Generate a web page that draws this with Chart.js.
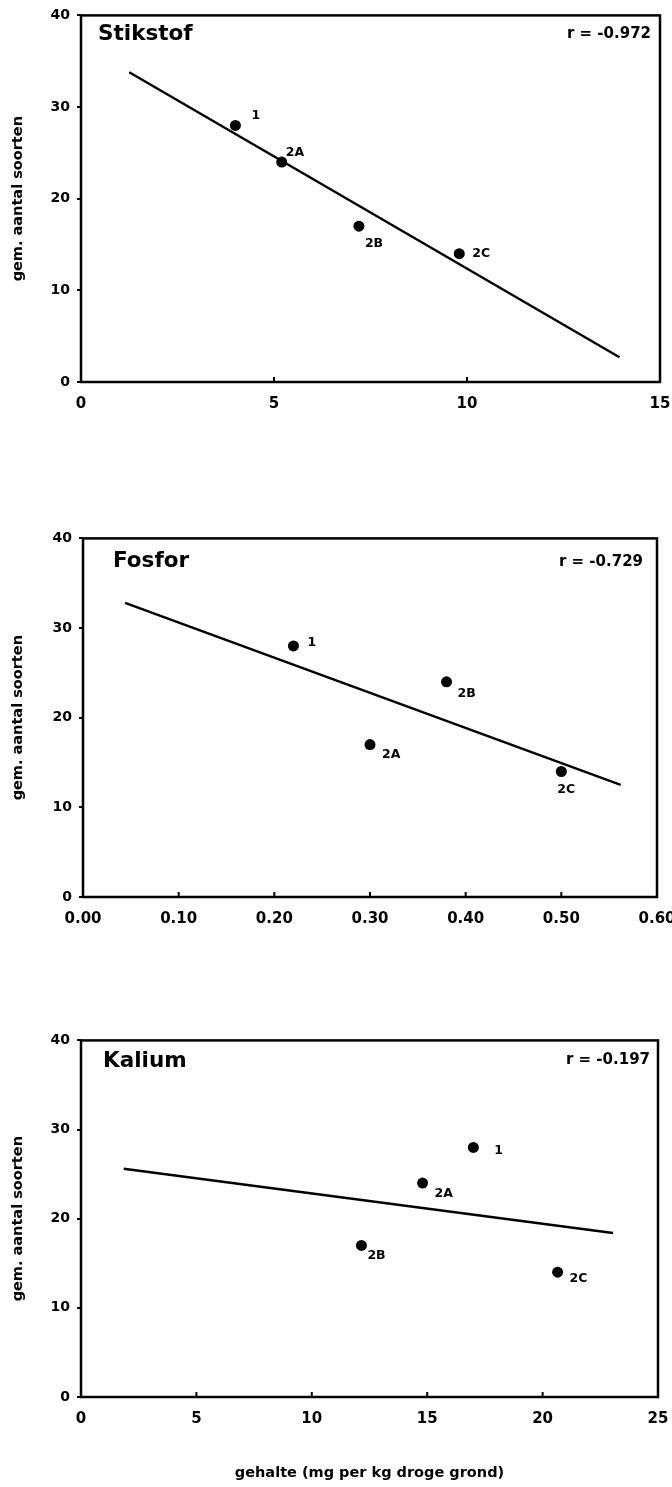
<!DOCTYPE html>
<html>
<head>
<meta charset="utf-8">
<script src="https://cdn.jsdelivr.net/npm/chart.js@4"></script>
<style>
  body { margin: 0; background: #fff; width: 672px; height: 1487px; position: relative; overflow: hidden; }
  .panel { position: absolute; left: 0; width: 672px; }
</style>
</head>
<body>
<div class="panel" id="p0"><canvas id="c0"></canvas></div>
<div class="panel" id="p1"><canvas id="c1"></canvas></div>
<div class="panel" id="p2"><canvas id="c2"></canvas></div>
<script>
// data
const panelNames = ['Stikstof', 'Fosfor', 'Kalium'];
const rTexts = ['r = -0.972', 'r = -0.729', 'r = -0.197'];
const siteLabels = ['1', '2A', '2B', '2C'];

const stikstofX = [4.0, 5.2, 7.2, 9.8];
const stikstofY = [28, 24, 17, 14];
const stikstofFitX = [1.25, 13.95];
const stikstofFitY = [33.8, 2.7];

const fosforX = [0.22, 0.30, 0.38, 0.50];
const fosforY = [28, 17, 24, 14];
const fosforFitX = [0.044, 0.562];
const fosforFitY = [32.8, 12.5];

const kaliumX = [17.0, 14.8, 12.15, 20.65];
const kaliumY = [28, 24, 17, 14];
const kaliumFitX = [1.85, 23.05];
const kaliumFitY = [25.6, 18.4];

const xMax = [15, 0.6, 25];
const xStep = [5, 0.1, 5];
const yMax = 40;
const yStep = 10;
const yTitle = 'gem. aantal soorten';
const xTitle = 'gehalte (mg per kg droge grond)';

// layout / styling per panel
const layout = [
  { top: 0, height: 422, yWidth: 81, padRight: 12, xHeight: 40, titleDx: 17, titleDy: 19, rDx: 9, rDy: 19,
    offsets: [[16, -10], [4, -9], [6, 18], [13, 0]] },
  { top: 523, height: 414, yWidth: 83, padRight: 15, xHeight: 40, titleDx: 30, titleDy: 23, rDx: 14, rDy: 24,
    offsets: [[14, -3], [12, 10], [11, 12], [-4, 18]] },
  { top: 1025, height: 462, yWidth: 81, padRight: 14, xHeight: 90, titleDx: 22, titleDy: 21, rDx: 8, rDy: 20,
    offsets: [[21, 3], [12, 11], [6, 10], [12, 7]] }
];

Chart.defaults.font.family = '"DejaVu Sans", sans-serif';
Chart.defaults.font.weight = 'bold';
Chart.defaults.color = '#000';

const annotate = {
  id: 'annotate',
  afterDraw(chart, args, opts) {
    const { ctx, chartArea: a, scales } = chart;
    ctx.save();
    ctx.strokeStyle = '#000';
    ctx.lineWidth = 2.5;
    ctx.strokeRect(a.left, a.top, a.width, a.height);

    // small inward ticks on the x axis
    const xt = scales.x.ticks;
    ctx.lineWidth = 2;
    xt.forEach((t, i) => {
      if (i === 0 || i === xt.length - 1) return;
      const px = scales.x.getPixelForValue(t.value);
      ctx.beginPath();
      ctx.moveTo(px, a.bottom);
      ctx.lineTo(px, a.bottom - 5);
      ctx.stroke();
    });

    ctx.fillStyle = '#000';
    ctx.textBaseline = 'middle';

    // site labels next to the points
    ctx.font = 'bold 12.5px "DejaVu Sans"';
    ctx.textAlign = 'left';
    chart.getDatasetMeta(0).data.forEach((pt, i) => {
      const off = opts.offsets[i];
      ctx.fillText(opts.labels[i], pt.x + off[0], pt.y + off[1]);
    });

    // panel name and correlation
    ctx.font = 'bold 21.5px "DejaVu Sans"';
    ctx.fillText(opts.name, a.left + opts.titleDx, a.top + opts.titleDy);
    ctx.font = 'bold 15px "DejaVu Sans"';
    ctx.textAlign = 'right';
    ctx.fillText(opts.r, a.right - opts.rDx, a.top + opts.rDy);
    ctx.restore();
  }
};

function makePanel(i, xs, ys, fitX, fitY) {
  const L = layout[i];
  const canvas = document.getElementById('c' + i);
  const box = document.getElementById('p' + i);
  box.style.top = L.top + 'px';
  box.style.height = L.height + 'px';
  canvas.width = 672;
  canvas.height = L.height;

  const points = xs.map((x, k) => ({ x: x, y: ys[k] }));
  const fit = fitX.map((x, k) => ({ x: x, y: fitY[k] }));
  const isLast = i === 2;

  new Chart(canvas.getContext('2d'), {
    type: 'scatter',
    data: {
      datasets: [
        {
          data: points,
          backgroundColor: '#000',
          borderColor: '#000',
          pointRadius: 5.5,
          pointBorderWidth: 0
        },
        {
          data: fit,
          showLine: true,
          borderColor: '#000',
          borderWidth: 2.5,
          pointRadius: 0
        }
      ]
    },
    options: {
      responsive: false,
      animation: false,
      layout: { padding: { top: 14, right: L.padRight, left: 0, bottom: 0 } },
      plugins: {
        legend: { display: false },
        tooltip: { enabled: false },
        annotate: {
          labels: siteLabels,
          offsets: L.offsets,
          name: panelNames[i],
          r: rTexts[i],
          titleDx: L.titleDx, titleDy: L.titleDy,
          rDx: L.rDx, rDy: L.rDy
        }
      },
      scales: {
        x: {
          type: 'linear',
          min: 0,
          max: xMax[i],
          grid: { display: true, drawOnChartArea: false, drawTicks: false },
          border: { display: false },
          ticks: {
            stepSize: xStep[i],
            padding: 13,
            maxRotation: 0,
            font: { size: 15, weight: 'bold' },
            callback: (v) => i === 1 ? Number(v).toFixed(2) : v
          },
          title: {
            display: isLast,
            text: xTitle,
            font: { size: 14.5, weight: 'bold' },
            padding: { top: 0, bottom: 5 }
          },
          afterFit(scale) {
            scale.height = L.xHeight;
            scale.paddingLeft = 0;
            scale.paddingRight = 0;
          }
        },
        y: {
          min: 0,
          max: yMax,
          grid: { display: true, drawOnChartArea: false, drawTicks: true, tickLength: 4, color: '#000', lineWidth: 2 },
          border: { display: false },
          ticks: {
            stepSize: yStep,
            padding: 7,
            font: { size: 14, weight: 'bold' }
          },
          title: {
            display: true,
            text: yTitle,
            font: { size: 14.5, weight: 'bold' },
            padding: { top: 10, bottom: 0 }
          },
          afterFit(scale) {
            scale.width = L.yWidth;
          }
        }
      }
    },
    plugins: [annotate]
  });
}

makePanel(0, stikstofX, stikstofY, stikstofFitX, stikstofFitY);
makePanel(1, fosforX, fosforY, fosforFitX, fosforFitY);
makePanel(2, kaliumX, kaliumY, kaliumFitX, kaliumFitY);
</script>
</body>
</html>
